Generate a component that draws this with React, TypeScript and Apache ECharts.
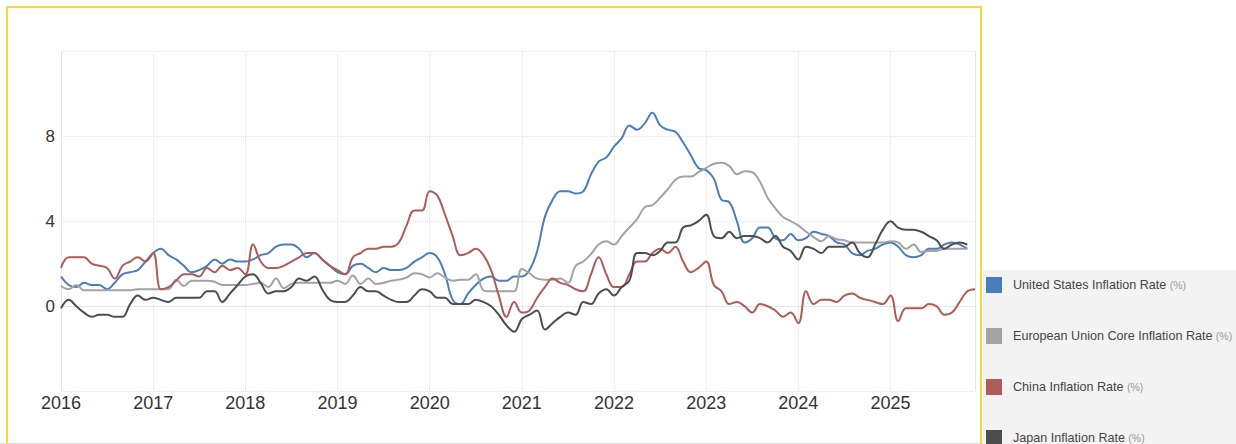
import React, { useEffect, useRef } from "react";
import * as echarts from "echarts";

const years = [2016, 2017, 2018, 2019, 2020, 2021, 2022, 2023, 2024, 2025];
const months = ["01", "02", "03", "04", "05", "06", "07", "08", "09", "10", "11", "12"];

const seriesNames = [
  "United States Inflation Rate",
  "European Union Core Inflation Rate",
  "China Inflation Rate",
  "Japan Inflation Rate",
];
const seriesColors = ["#4a7ebb", "#a3a3a3", "#b05a5a", "#4d4d4d"];

// Monthly values, Jan 2016 .. Dec 2025
const usInflation = [
  1.4, 1.0, 0.9, 1.1, 1.0, 1.0, 0.8, 1.1, 1.5, 1.6, 1.7, 2.1,
  2.5, 2.7, 2.4, 2.2, 1.9, 1.6, 1.7, 1.9, 2.2, 2.0, 2.2, 2.1,
  2.1, 2.2, 2.4, 2.5, 2.8, 2.9, 2.9, 2.7, 2.3, 2.5, 2.2, 1.9,
  1.6, 1.5, 1.9, 2.0, 1.8, 1.6, 1.8, 1.7, 1.7, 1.8, 2.1, 2.3,
  2.5, 2.3, 1.5, 0.3, 0.1, 0.6, 1.0, 1.3, 1.4, 1.2, 1.2, 1.4,
  1.4, 1.7, 2.6, 4.2, 5.0, 5.4, 5.4, 5.3, 5.4, 6.2, 6.8, 7.0,
  7.5, 7.9, 8.5, 8.3, 8.6, 9.1, 8.5, 8.3, 8.2, 7.7, 7.1, 6.5,
  6.4, 6.0, 5.0, 4.9, 4.0, 3.0, 3.2, 3.7, 3.7, 3.2, 3.1, 3.4,
  3.1, 3.2, 3.5, 3.4, 3.3, 3.0, 2.9, 2.5, 2.4, 2.6, 2.7, 2.9,
  3.0, 2.8, 2.4, 2.3, 2.4, 2.7, 2.7, 2.9, 3.0, null, 2.7, null,
];

const euCoreInflation = [
  0.95, 0.8, 1.0, 0.75, 0.75, 0.75, 0.75, 0.75, 0.75, 0.75, 0.8, 0.8,
  0.8, 0.8, 0.8, 1.25, 0.95, 1.2, 1.2, 1.2, 1.15, 1.0, 1.0, 1.0,
  1.0, 1.05, 1.1, 0.9, 1.3, 0.85, 1.05, 1.1, 1.1, 1.1, 1.1, 1.1,
  1.2, 1.05, 1.45, 1.05, 1.3, 1.05, 1.1, 1.2, 1.25, 1.35, 1.55, 1.5,
  1.35, 1.55, 1.35, 1.2, 1.25, 1.25, 1.5, 0.75, 0.7, 0.7, 0.7, 0.7,
  1.75, 1.55, 1.3, 1.25, 1.25, 1.3, 1.1, 1.9, 2.1, 2.45, 2.9, 3.05,
  2.9, 3.3, 3.7, 4.1, 4.65, 4.75, 5.1, 5.5, 5.95, 6.1, 6.1, 6.3,
  6.5, 6.7, 6.75, 6.6, 6.2, 6.35, 6.3, 5.85, 5.1, 4.6, 4.2, 4.0,
  3.8, 3.5, 3.25, 3.05, 3.3, 3.15, 3.1, 3.0, 3.0, 3.0, 3.0, 3.0,
  3.05, 3.0, 2.7, 2.9, 2.55, 2.6, 2.6, 2.7, 2.7, 2.7, 2.7, null,
];

const chinaInflation = [
  1.8, 2.3, 2.3, 2.3, 2.0, 1.9, 1.8, 1.3, 1.9, 2.1, 2.3, 2.1,
  2.5, 0.8, 0.9, 1.2, 1.5, 1.5, 1.4, 1.8, 1.6, 1.9, 1.7, 1.8,
  1.5, 2.9, 2.1, 1.8, 1.8, 1.9, 2.1, 2.3, 2.5, 2.5, 2.2, 1.9,
  1.7, 1.5, 2.3, 2.5, 2.7, 2.7, 2.8, 2.8, 3.0, 3.8, 4.5, 4.5,
  5.4, 5.2, 4.3, 3.3, 2.4, 2.5, 2.7, 2.4, 1.7, 0.5, -0.5, 0.2,
  -0.3, -0.2, 0.4, 0.9, 1.3, 1.1, 1.0, 0.8, 0.7, 1.5, 2.3, 1.5,
  0.9, 0.9, 1.5, 2.1, 2.1, 2.5, 2.7, 2.5, 2.8, 2.1, 1.6, 1.8,
  2.1, 1.0, 0.7, 0.1, 0.2, 0.0, -0.3, 0.1, 0.0, -0.2, -0.5, -0.3,
  -0.8, 0.7, 0.1, 0.3, 0.3, 0.2, 0.5, 0.6, 0.4, 0.3, 0.2, 0.1,
  0.5, -0.7, -0.1, -0.1, -0.1, 0.1, 0.0, -0.4, -0.3, 0.2, 0.7, 0.8,
];

const japanInflation = [
  -0.1, 0.3, 0.0, -0.3, -0.5, -0.4, -0.4, -0.5, -0.5, 0.1, 0.5, 0.3,
  0.4, 0.3, 0.2, 0.4, 0.4, 0.4, 0.4, 0.7, 0.7, 0.2, 0.6, 1.0,
  1.4, 1.5, 1.1, 0.6, 0.7, 0.7, 0.9, 1.3, 1.2, 1.4, 0.8, 0.3,
  0.2, 0.2, 0.5, 0.9, 0.7, 0.7, 0.5, 0.3, 0.2, 0.2, 0.5, 0.8,
  0.7, 0.4, 0.4, 0.1, 0.1, 0.1, 0.3, 0.2, 0.0, -0.4, -0.9, -1.2,
  -0.6, -0.4, -0.2, -1.1, -0.8, -0.5, -0.3, -0.4, 0.2, 0.1, 0.6, 0.8,
  0.5, 0.9, 1.2, 2.5, 2.5, 2.4, 2.6, 3.0, 3.0, 3.7, 3.8, 4.0,
  4.3, 3.3, 3.2, 3.5, 3.2, 3.3, 3.3, 3.2, 3.0, 3.3, 2.8, 2.6,
  2.2, 2.8, 2.7, 2.5, 2.8, 2.8, 2.8, 3.0, 2.5, 2.3, 2.9, 3.6,
  4.0, 3.7, 3.6, 3.6, 3.5, 3.3, 3.1, 2.7, 2.9, 3.0, 2.9, null,
];

const yMin = -4;
const yMax = 12;
const yStep = 4;

const categories: string[] = [];
years.forEach((y) => months.forEach((m) => categories.push(`${y}-${m}`)));

const FONT = "'Liberation Sans', Arial, Helvetica, sans-serif";

export default function App() {
  const ref = useRef<HTMLDivElement>(null);

  useEffect(() => {
    if (!ref.current) return;
    const chart = echarts.init(ref.current, undefined, { renderer: "svg" });
    const allData = [usInflation, euCoreInflation, chinaInflation, japanInflation];

    chart.setOption({
      animation: false,
      backgroundColor: "#ffffff",
      textStyle: { fontFamily: FONT },
      grid: { left: 61, right: 261, top: 51, bottom: 52.7, containLabel: false },
      graphic: [
        {
          type: "rect",
          z: -10,
          shape: { x: 983, y: 270, width: 260, height: 180 },
          style: { fill: "#f3f3f3" },
          silent: true,
        },
        {
          type: "line",
          z: -5,
          shape: { x1: 0, y1: 443.5, x2: 983, y2: 443.5 },
          style: { stroke: "#dcdcdc", lineWidth: 1 },
          silent: true,
        },
        {
          type: "rect",
          z: 50,
          shape: { x: 7, y: 7, width: 974, height: 460 },
          style: { fill: "none", stroke: "#fdd835", lineWidth: 2 },
          silent: true,
        },
        {
          type: "line",
          z: -5,
          shape: { x1: 975.5, y1: 51, x2: 975.5, y2: 391.3 },
          style: { stroke: "#e6e6e6", lineWidth: 1 },
          silent: true,
        },
      ],
      legend: {
        orient: "vertical",
        left: 986,
        top: 277,
        height: 400,
        padding: 0,
        itemWidth: 16,
        itemHeight: 16,
        itemGap: 35,
        icon: "rect",
        selectedMode: false,
        data: seriesNames,
        formatter: (name: string) => `{n|${name}} {u|(%)}`,
        textStyle: {
          fontFamily: FONT,
          lineHeight: 16,
          rich: {
            n: { fontSize: 12.6, color: "#444444", padding: [0, 0, 0, 6], lineHeight: 16, fontFamily: FONT },
            u: { fontSize: 10.5, color: "#999999", lineHeight: 16, fontFamily: FONT },
          },
        },
      },
      xAxis: {
        type: "category",
        data: categories,
        boundaryGap: false,
        axisLine: { show: true, lineStyle: { color: "#e6e6e6", width: 1 } },
        axisTick: { show: false },
        axisLabel: {
          interval: (i: number) => i % 12 === 0,
          formatter: (v: string) => v.slice(0, 4),
          fontSize: 18,
          color: "#333333",
          margin: 3,
          fontFamily: FONT,
        },
        splitLine: {
          show: true,
          interval: (i: number) => i % 12 === 0,
          lineStyle: { color: "#e3e3e3", type: "dotted", width: 1 },
        },
      },
      yAxis: {
        type: "value",
        min: yMin,
        max: yMax,
        interval: yStep,
        axisLine: { show: true, lineStyle: { color: "#e6e6e6", width: 1 } },
        axisTick: { show: false },
        axisLabel: {
          formatter: (v: number) => (v === yMin || v === yMax ? "" : String(v)),
          fontSize: 17,
          color: "#333333",
          margin: 6,
          padding: [0, 0, 6, 0],
          fontFamily: FONT,
        },
        splitLine: {
          show: true,
          lineStyle: { color: "#e3e3e3", type: "dotted", width: 1 },
        },
      },
      series: seriesNames.map((name, i) => ({
        name,
        type: "line",
        data: allData[i],
        color: seriesColors[i],
        showSymbol: false,
        symbol: "none",
        smooth: 0.4,
        connectNulls: true,
        lineStyle: { width: 2, color: seriesColors[i] },
        itemStyle: { color: seriesColors[i] },
        z: 2 + i,
      })),
    });

    return () => {
      chart.dispose();
    };
  }, []);

  return (
    <div
      ref={ref}
      style={{ position: "absolute", left: 0, top: 0, width: 1236, height: 444, background: "#fff" }}
    />
  );
}
